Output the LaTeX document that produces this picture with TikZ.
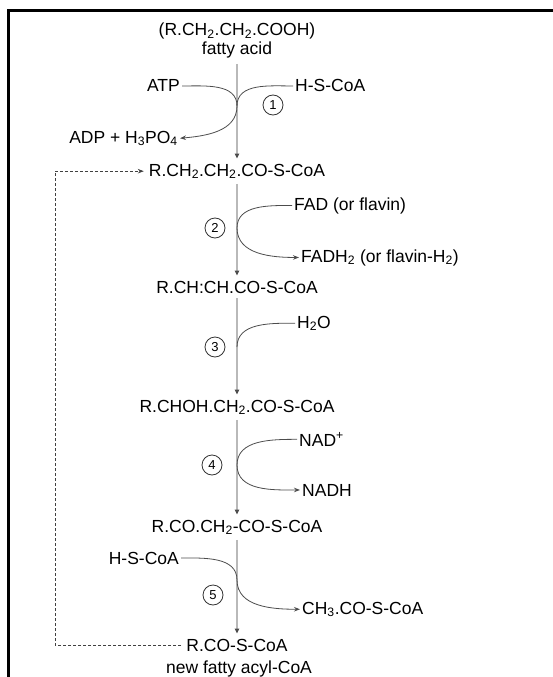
\documentclass[tikz,border=0pt]{standalone}
\usepackage{fontspec}
\setmainfont{Liberation Sans}
\usetikzlibrary{arrows.meta}

\begin{document}
\begin{tikzpicture}[
  x=1pt, y=1pt,
  font=\fontsize{17.5}{20}\selectfont,
  cpd/.style={inner sep=5pt, anchor=base},
  side/.style={inner sep=2pt},
  num/.style={circle, draw=black!80, line width=0.8pt, minimum size=20pt, inner sep=0pt, font=\fontsize{13}{13}\selectfont},
  main/.style={draw=gray!55, line width=1.4pt, -{Triangle[length=5pt,width=4.5pt,color=black!70]}},
  link/.style={draw=black!70, line width=0.8pt},
  linkarr/.style={link, -{Stealth[length=6pt,width=4.5pt]}},
  loopback/.style={draw=black!75, densely dashed, line width=0.9pt, -{Stealth[length=6pt,width=4.5pt]}}
]
  \useasboundingbox (0,0) rectangle (553,-677);
  \draw[line width=3pt] (8.5,-677) -- (8.5,-10.5) -- (553,-10.5);

  % main chain
  \node[cpd] (fa) at (237,-36) {(R.CH\textsubscript{2}.CH\textsubscript{2}.COOH)};
  \node[cpd] (fan) at (237,-55) {fatty acid};
  \node[cpd] (c1) at (237,-176) {R.CH\textsubscript{2}.CH\textsubscript{2}.CO-S-CoA};
  \node[cpd] (c2) at (237,-293) {R.CH:CH.CO-S-CoA};
  \node[cpd] (c3) at (237,-412) {R.CHOH.CH\textsubscript{2}.CO-S-CoA};
  \node[cpd] (c4) at (237,-532) {R.CO.CH\textsubscript{2}-CO-S-CoA};
  \node[cpd] (c5) at (237,-651) {R.CO-S-CoA};
  \node[cpd] (c5n) at (239,-673) {new fatty acyl-CoA};

  \draw[main] (fan) -- (c1);
  \draw[main] (c1) -- (c2);
  \draw[main] (c2) -- (c3);
  \draw[main] (c3) -- (c4);
  \draw[main] (c4) -- (c5);

  % side reagents
  \node[side, anchor=base east] (atp) at (182,-92) {ATP};
  \node[side, anchor=base west] (hsa) at (293,-92) {H-S-CoA};
  \node[side, anchor=base east] (adp) at (180,-143) {ADP + H\textsubscript{3}PO\textsubscript{4}};
  \node[side, anchor=base west] (fad) at (292,-210) {FAD (or flavin)};
  \node[side, anchor=base west] (fadh) at (299,-262) {FADH\textsubscript{2} (or flavin-H\textsubscript{2})};
  \node[side, anchor=base west] (wat) at (295,-328) {H\textsubscript{2}O};
  \node[side, anchor=base west] (nad) at (297,-446) {NAD\textsuperscript{+}};
  \node[side, anchor=base west] (nadh) at (300,-496) {NADH};
  \node[side, anchor=base east] (hsb) at (181,-564) {H-S-CoA};
  \node[side, anchor=base west] (acc) at (300,-614) {CH\textsubscript{3}.CO-S-CoA};

  % step numbers
  \node[num] (s1) at (273,-105) {1};
  \node[num] (s2) at (215,-228) {2};
  \node[num] (s3) at (215,-347) {3};
  \node[num] (s4) at (212,-465) {4};
  \node[num] (s5) at (213,-595) {5};

  \coordinate (j1) at (237,-106);
  \coordinate (j2) at (237,-228);
  \coordinate (j3) at (237,-347);
  \coordinate (j4) at (237,-465);
  \coordinate (j5) at (237,-580);
  \coordinate (lp) at (55,0);

  \draw[link] (atp.east) to[out=0,in=90] (j1);
  \draw[link] (hsa.west) to[out=180,in=90] (j1);
  \draw[linkarr] (j1) to[out=-90,in=5] (adp.east);
  \draw[link] (fad.west) to[out=180,in=90] (j2);
  \draw[linkarr] (j2) to[out=-90,in=180] (fadh.west);
  \draw[link] (wat.west) to[out=180,in=90] (j3);
  \draw[link] (nad.west) to[out=180,in=90] (j4);
  \draw[linkarr] (j4) to[out=-90,in=180] (nadh.west);
  \draw[link] (hsb.east) to[out=0,in=90] (j5);
  \draw[linkarr] (j5) to[out=-90,in=180] (acc.west);

  % recycled acyl-CoA
  \draw[loopback] (c5.west) -- (c5.west -| lp) -- (c1.west -| lp) -- (c1.west);
\end{tikzpicture}
\end{document}
